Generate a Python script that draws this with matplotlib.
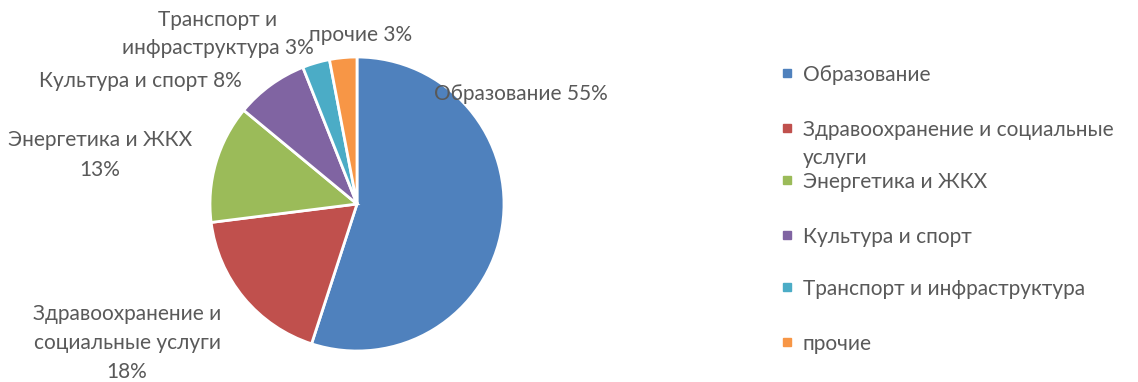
import matplotlib.pyplot as plt
from matplotlib.patches import Rectangle

plt.rcParams['font.family'] = ['Lato', 'DejaVu Sans']

# данные
categories = ['Образование', 'Здравоохранение и социальные услуги', 'Энергетика и ЖКХ',
              'Культура и спорт', 'Транспорт и инфраструктура', 'прочие']
shares = [55, 18, 13, 8, 3, 3]
colors = ['#4F81BD', '#C0504D', '#9BBB59', '#8064A2', '#4BACC6', '#F79646']
pie_labels = ['Образование', 'Здравоохранение и\nсоциальные услуги\n', 'Энергетика и ЖКХ\n',
              'Культура и спорт', 'Транспорт и\nинфраструктура', 'прочие']
legend_labels = ['Образование', 'Здравоохранение и социальные\nуслуги', 'Энергетика и ЖКХ',
                 'Культура и спорт', 'Транспорт и инфраструктура', 'прочие']

W, H = 1138, 382
fig = plt.figure(figsize=(W / 100, H / 100), dpi=100)

# оси под круг: центр (357, 204), радиус 147 px
cx, cy, r = 357, 204, 147
ax = fig.add_axes([(cx - r) / W, (H - cy - r) / H, 2 * r / W, 2 * r / H])
ax.pie(shares, colors=colors, startangle=90, counterclock=False,
       wedgeprops=dict(edgecolor='white', linewidth=2))
ax.set_xlim(-1, 1)
ax.set_ylim(-1, 1)
ax.set_aspect('equal')
ax.axis('off')

txt = '#595959'
fs = 15
step = 29  # межстрочный шаг, px

# подписи (центры в пикселях картинки)
label_pos = [(521, 92), (127, 341), (100, 153), (140, 79), (218, 32), (361, 33)]
for lab, s, (px, py) in zip(pie_labels, shares, label_pos):
    t = lab + f'{s}%' if lab.endswith('\n') else lab + f' {s}%'
    lines = t.split('\n')
    y0 = py - step * (len(lines) - 1) / 2
    for i, ln in enumerate(lines):
        fig.text(px / W, 1 - (y0 + i * step) / H, ln, ha='center', va='center_baseline',
                 color=txt, fontsize=fs)

# легенда
leg_y = [73, 128, 180, 235, 287, 342]
for lab, c, py in zip(legend_labels, colors, leg_y):
    fig.patches.append(Rectangle((783 / W, 1 - (py + 4) / H), 8 / W, 8 / H,
                                 transform=fig.transFigure, color=c))
    for i, ln in enumerate(lab.split('\n')):
        fig.text(803 / W, 1 - (py + i * 28) / H, ln, ha='left', va='center_baseline',
                 color=txt, fontsize=fs)

fig.savefig('out.png', dpi=100)
